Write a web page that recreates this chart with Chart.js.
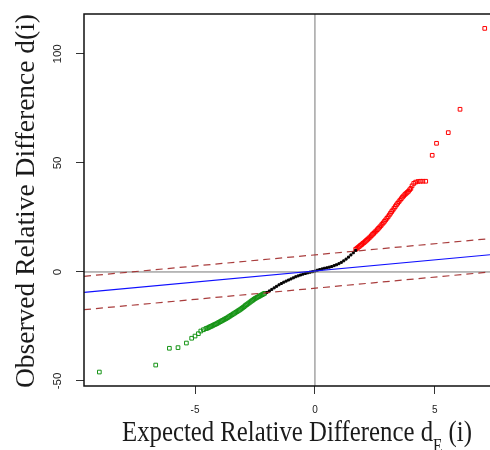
<!DOCTYPE html>
<html>
<head>
<meta charset="utf-8">
<script src="https://cdn.jsdelivr.net/npm/chart.js@4.4.0/dist/chart.umd.min.js"></script>
<style>
  html, body { margin: 0; padding: 0; background: #fff; }
</style>
</head>
<body>
<canvas id="qq" width="490" height="450"></canvas>
<script>
// axis ranges and ticks
const xRange = [-9.63, 7.3];
const yRange = [-52.3, 118.3];
const xTickValues = [-5, 0, 5];
const yTickValues = [-50, 0, 50, 100];

// lower tail (green)
const greenX = [-8.99, -6.64, -6.07, -5.71, -5.36, -5.14, -5.0, -4.86, -4.76, -4.65,
  -4.55, -4.5, -4.45, -4.4, -4.35, -4.3, -4.25, -4.2, -4.15, -4.1,
  -4.05, -4.0, -3.95, -3.9, -3.85, -3.8, -3.75, -3.7, -3.65, -3.6,
  -3.55, -3.5, -3.45, -3.4, -3.35, -3.3, -3.25, -3.2, -3.15, -3.1,
  -3.05, -3.0, -2.95, -2.9, -2.85, -2.8, -2.75, -2.7, -2.65, -2.6,
  -2.55, -2.5, -2.45, -2.4, -2.35, -2.3, -2.25, -2.2, -2.15, -2.1];
const greenY = [-45.9, -42.7, -35.0, -34.7, -32.6, -30.4, -29.4, -28.3, -27.1, -26.5,
  -26.0, -25.8, -25.6, -25.3, -25.0, -24.8, -24.5, -24.2, -24.0, -23.7,
  -23.4, -23.1, -22.8, -22.5, -22.2, -21.9, -21.6, -21.3, -21.0, -20.6,
  -20.3, -19.9, -19.6, -19.2, -18.9, -18.5, -18.2, -17.8, -17.5, -17.1,
  -16.7, -16.3, -15.9, -15.4, -15.0, -14.6, -14.2, -13.8, -13.4, -13.0,
  -12.6, -12.2, -11.9, -11.6, -11.3, -11.0, -10.7, -10.4, -10.1, -9.8];

// middle (black)
const blackX = [-2.0, -1.9, -1.8, -1.7, -1.6, -1.5, -1.4, -1.3, -1.2, -1.1,
  -1.0, -0.9, -0.8, -0.7, -0.6, -0.5, -0.4, -0.3, -0.2, -0.1,
  0.0, 0.1, 0.2, 0.3, 0.4, 0.5, 0.6, 0.7, 0.8, 0.9,
  1.0, 1.1, 1.2, 1.3, 1.4, 1.5, 1.6, 1.7];
const blackY = [-9.4, -8.7, -8.0, -7.3, -6.6, -5.9, -5.3, -4.7, -4.2, -3.7,
  -3.2, -2.7, -2.2, -1.8, -1.4, -1.0, -0.7, -0.4, -0.1, 0.1,
  0.4, 0.8, 1.1, 1.4, 1.7, 1.9, 2.2, 2.5, 2.9, 3.3,
  3.8, 4.4, 5.1, 5.9, 6.8, 7.8, 8.8, 9.9];

// upper tail (red)
const redX = [1.7, 1.75, 1.8, 1.85, 1.9, 1.95, 2.0, 2.05, 2.1, 2.15,
  2.2, 2.25, 2.3, 2.35, 2.4, 2.45, 2.5, 2.55, 2.6, 2.65,
  2.7, 2.75, 2.8, 2.85, 2.9, 2.95, 3.0, 3.05, 3.1, 3.15,
  3.2, 3.25, 3.3, 3.35, 3.4, 3.45, 3.5, 3.55, 3.6, 3.65,
  3.7, 3.75, 3.8, 3.85, 3.9, 3.95, 4.0, 4.05, 4.12, 4.2,
  4.3, 4.4, 4.5, 4.62, 4.89, 5.07, 5.56, 6.05, 7.08];
const redY = [10.4, 10.8, 11.3, 11.7, 12.2, 12.6, 13.1, 13.5, 14.0, 14.5,
  15.0, 15.5, 16.0, 16.6, 17.2, 17.7, 18.3, 18.8, 19.4, 20.0,
  20.6, 21.2, 21.9, 22.5, 23.2, 23.9, 24.6, 25.3, 26.1, 26.9,
  27.7, 28.4, 29.2, 30.0, 30.8, 31.5, 32.2, 32.9, 33.6, 34.3,
  34.9, 35.5, 36.0, 36.5, 37.0, 37.7, 38.3, 39.5, 40.6, 41.2,
  41.5, 41.6, 41.6, 41.6, 53.5, 59.0, 63.9, 74.6, 111.7];

// reference lines (ends at the x range)
const fitLineY = [-9.4, 7.9];
const upperBandY = [-2.0, 15.3];
const lowerBandY = [-17.3, 0.0];

function toPoints(xs, ys) {
    return xs.map((x, i) => ({ x: x, y: ys[i] }));
}
function lineAt(ys) {
    return [{ x: xRange[0], y: ys[0] }, { x: xRange[1], y: ys[1] }];
}

const serif = "'Liberation Serif', 'DejaVu Serif', serif";
const sans = "'Liberation Sans', Arial, sans-serif";

// frame, rotated y tick labels and the two axis titles
const decorPlugin = {
    id: "decor",
    afterDraw(chart) {
        const ctx = chart.ctx;
        const a = chart.chartArea;
        const yScale = chart.scales.y;

        ctx.save();
        ctx.strokeStyle = "#111";
        ctx.lineWidth = 1.5;
        ctx.beginPath();
        ctx.moveTo(a.right + 2, a.top);
        ctx.lineTo(a.left, a.top);
        ctx.lineTo(a.left, a.bottom);
        ctx.lineTo(a.right + 2, a.bottom);
        ctx.stroke();

        // y tick labels, read bottom to top
        ctx.fillStyle = "#222";
        ctx.font = "10px " + sans;
        ctx.textAlign = "center";
        ctx.textBaseline = "alphabetic";
        yTickValues.forEach(v => {
            const py = yScale.getPixelForValue(v);
            ctx.save();
            ctx.translate(61, py);
            ctx.rotate(-Math.PI / 2);
            ctx.scale(1.15, 1);
            ctx.fillText(String(v), 0, 0);
            ctx.restore();
        });

        // y title
        ctx.fillStyle = "#1a1a1a";
        ctx.textAlign = "left";
        const yTitle = "Observed Relative Difference d(i)";
        ctx.font = "27px " + serif;
        const sy = 374 / ctx.measureText(yTitle).width;
        ctx.save();
        ctx.translate(34, 388);
        ctx.rotate(-Math.PI / 2);
        ctx.scale(sy, 1);
        ctx.fillText(yTitle, 0, 0);
        ctx.restore();

        // x title with subscript E
        const partA = "Expected Relative Difference d";
        const partB = "E";
        const partC = " (i)";
        ctx.font = "29px " + serif;
        const wA = ctx.measureText(partA).width;
        const wC = ctx.measureText(partC).width;
        ctx.font = "18px " + serif;
        const wB = ctx.measureText(partB).width;
        const sx = 350 / (wA + wB + wC);
        ctx.save();
        ctx.translate(122, 441);
        ctx.scale(sx, 1);
        ctx.font = "29px " + serif;
        ctx.fillText(partA, 0, 0);
        ctx.font = "18px " + serif;
        ctx.fillText(partB, wA, 11);
        ctx.font = "29px " + serif;
        ctx.fillText(partC, wA + wB, 0);
        ctx.restore();

        ctx.restore();
    }
};

const squareStyle = (color, r, fillColor) => ({
    pointStyle: "rect",
    pointRadius: r,
    pointHoverRadius: r,
    borderColor: color,
    backgroundColor: fillColor,
    pointBorderWidth: 1,
    showLine: false
});

const lineStyle = (color, width, dash) => ({
    showLine: true,
    pointRadius: 0,
    borderColor: color,
    borderWidth: width,
    borderDash: dash,
    fill: false
});

new Chart(document.getElementById("qq"), {
    type: "scatter",
    data: {
        datasets: [
            Object.assign({ data: lineAt(upperBandY) }, lineStyle("rgba(160,40,40,0.9)", 1.2, [7, 5])),
            Object.assign({ data: lineAt(lowerBandY) }, lineStyle("rgba(160,40,40,0.9)", 1.2, [7, 5])),
            Object.assign({ data: lineAt(fitLineY) }, lineStyle("#1010ff", 1.2, [])),
            Object.assign({ data: [{ x: xRange[0], y: 0 }, { x: xRange[1], y: 0 }] }, lineStyle("#777", 1, [])),
            Object.assign({ data: [{ x: 0, y: yRange[0] }, { x: 0, y: yRange[1] }] }, lineStyle("#777", 1, [])),
            Object.assign({ data: toPoints(blackX, blackY) }, squareStyle("#000", 1.4, "#000")),
            Object.assign({ data: toPoints(greenX, greenY) }, squareStyle("#169416", 2.6, "rgba(0,0,0,0)")),
            Object.assign({ data: toPoints(redX, redY) }, squareStyle("#ff0000", 2.6, "rgba(0,0,0,0)"))
        ]
    },
    options: {
        responsive: false,
        animation: false,
        layout: { autoPadding: false, padding: { top: 14, right: 0, left: 0, bottom: 0 } },
        plugins: { legend: { display: false }, tooltip: { enabled: false } },
        scales: {
            x: {
                type: "linear",
                min: xRange[0],
                max: xRange[1],
                afterBuildTicks: scale => { scale.ticks = xTickValues.map(v => ({ value: v })); },
                afterFit: scale => { scale.height = 64; scale.paddingLeft = 0; scale.paddingRight = 0; },
                border: { display: false },
                grid: { drawOnChartArea: false, drawTicks: true, tickLength: 8, color: "#333", lineWidth: 1 },
                ticks: { color: "#222", font: { size: 10, family: sans }, padding: 10, maxRotation: 0 }
            },
            y: {
                type: "linear",
                min: yRange[0],
                max: yRange[1],
                afterBuildTicks: scale => { scale.ticks = yTickValues.map(v => ({ value: v })); },
                afterFit: scale => { scale.width = 84; scale.paddingTop = 0; scale.paddingBottom = 0; },
                border: { display: false },
                grid: { drawOnChartArea: false, drawTicks: true, tickLength: 8, color: "#333", lineWidth: 1 },
                ticks: { display: false }
            }
        }
    },
    plugins: [decorPlugin]
});
</script>
</body>
</html>
